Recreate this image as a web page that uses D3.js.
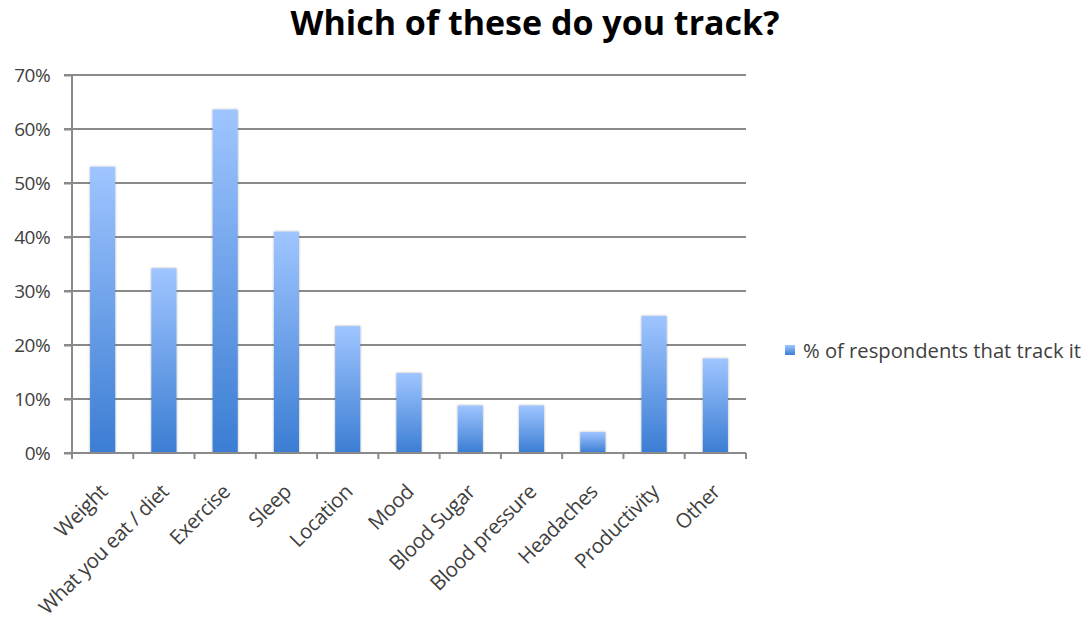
<!DOCTYPE html>
<html><head><meta charset="utf-8">
<script src="https://cdn.jsdelivr.net/npm/d3@7"></script>
<style>
html,body{margin:0;padding:0;background:#fff;}
svg{display:block;font-family:"Open Sans",sans-serif;}
</style></head>
<body><svg id="c" width="1091" height="624"></svg>
<script>
const categories = ["Weight","What you eat / diet","Exercise","Sleep","Location","Mood","Blood Sugar","Blood pressure","Headaches","Productivity","Other"];
const values = [0.53,0.342,0.636,0.41,0.235,0.148,0.088,0.088,0.039,0.254,0.175];
const yTicks = [0,0.1,0.2,0.3,0.4,0.5,0.6,0.7];
const seriesName = "% of respondents that track it";
const title = "Which of these do you track?";

const svg = d3.select("#c");
const mLeft = 72, mRight = 746, mTop = 75, mBottom = 453;
const x = d3.scaleBand().domain(categories).range([mLeft, mRight]).paddingInner(0.59).paddingOuter(0.295);
const y = d3.scaleLinear().domain([0,0.7]).range([mBottom, mTop]);

const defs = svg.append("defs");
const g = defs.append("linearGradient").attr("id","bg").attr("x1",0).attr("y1",0).attr("x2",0).attr("y2",1);
g.append("stop").attr("offset","0%").attr("stop-color","#9fc5ff");
g.append("stop").attr("offset","100%").attr("stop-color","#3b7dd3");
const f = defs.append("filter").attr("id","sh").attr("x","-20%").attr("y","-10%").attr("width","140%").attr("height","120%");
f.append("feDropShadow").attr("dx",0).attr("dy",0).attr("stdDeviation",1.2).attr("flood-color","#000").attr("flood-opacity",0.35);

svg.append("text").attr("x",535).attr("y",35).attr("text-anchor","middle")
  .attr("font-size",34).attr("font-weight","bold").attr("fill","#000").text(title);

// grid
svg.append("g").selectAll("line").data(yTicks).join("line")
  .attr("x1",mLeft-8).attr("x2",mRight).attr("y1",d=>y(d)).attr("y2",d=>y(d))
  .attr("stroke","#8a8a8a").attr("stroke-width",2);

// y axis
const ya = svg.append("g").attr("transform",`translate(${mLeft},0)`)
  .call(d3.axisLeft(y).tickValues(yTicks).tickFormat(d3.format(".0%")).tickSize(8).tickPadding(14));
ya.select(".domain").attr("stroke","#8a8a8a").attr("stroke-width",2).attr("d",`M0,${mTop}V${mBottom+5}`);
ya.selectAll(".tick line").attr("stroke","#8a8a8a").attr("stroke-width",2);
ya.selectAll("text").attr("font-family","'Open Sans',sans-serif").attr("font-size",19).attr("fill","#404040").attr("letter-spacing",-0.6);

// bars
svg.append("g").selectAll("rect").data(values).join("rect")
  .attr("x",(d,i)=>x(categories[i])).attr("width",x.bandwidth())
  .attr("y",d=>y(d)).attr("height",d=>mBottom-y(d))
  .attr("fill","url(#bg)").attr("filter","url(#sh)");

// x axis
const step = x.step();
const xt = d3.range(categories.length+1).map(i=>mLeft+i*step);
svg.append("g").selectAll("line").data(xt).join("line")
  .attr("x1",d=>d).attr("x2",d=>d).attr("y1",mBottom).attr("y2",mBottom+6)
  .attr("stroke","#8a8a8a").attr("stroke-width",2);
svg.append("line").attr("x1",mLeft).attr("x2",mRight).attr("y1",mBottom).attr("y2",mBottom)
  .attr("stroke","#8a8a8a").attr("stroke-width",2);
svg.append("g").selectAll("text").data(categories).join("text")
  .attr("transform",d=>`translate(${x(d)+x.bandwidth()/2+1},${mBottom+35}) rotate(-45)`)
  .attr("text-anchor","end").attr("dy","0.35em")
  .attr("font-size",20.5).attr("fill","#404040").attr("letter-spacing",-0.4).text(d=>d);

// legend
svg.append("rect").attr("x",785).attr("y",345).attr("width",10).attr("height",10).attr("fill","url(#bg)");
svg.append("text").attr("x",803).attr("y",351).attr("dy","0.35em").attr("font-size",20.2).attr("fill","#404040").text(seriesName);
</script></body></html>
